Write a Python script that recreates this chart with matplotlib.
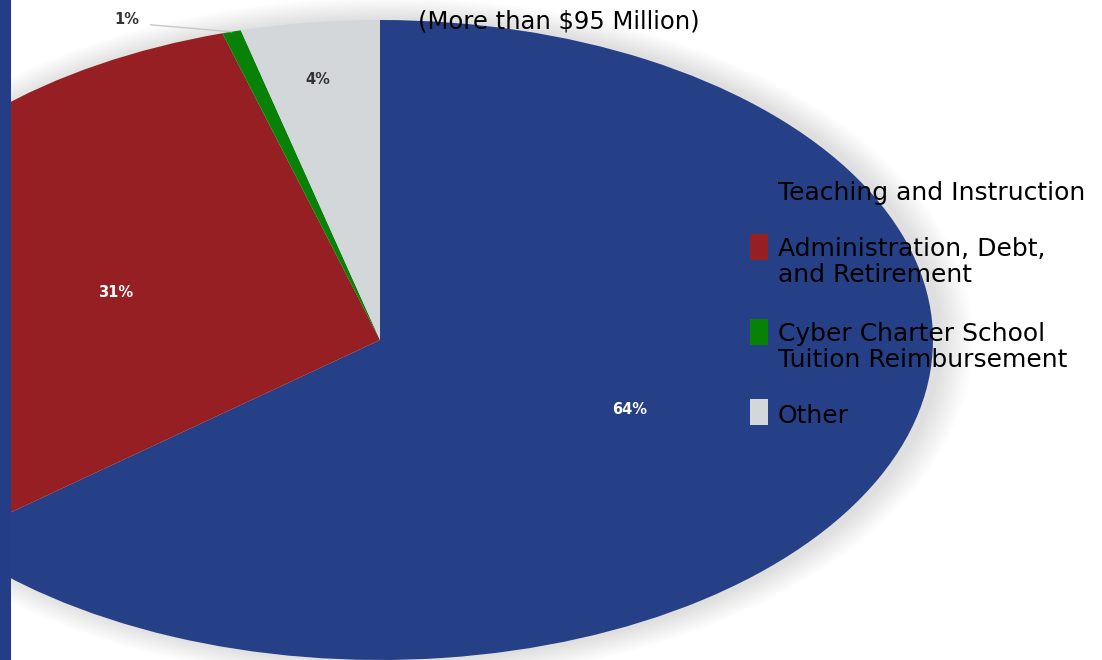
import matplotlib
matplotlib.use("Agg")
import matplotlib.pyplot as plt
from matplotlib.patches import Rectangle, Ellipse
import numpy as np

categories = ["Teaching and Instruction", "Administration, Debt,\nand Retirement",
              "Cyber Charter School\nTuition Reimbursement", "Other"]
values = [64.2, 31.2, 0.55, 4.05]
colors = ["#264087", "#951F22", "#078207", "#D4D7DA"]
title_text = "(More than $95 Million)"

W, H = 1102, 660
fig = plt.figure(figsize=(W / 100, H / 100), dpi=100)
fig.patch.set_facecolor("white")
ax = fig.add_axes([0, 0, 1, 1])

# pixel geometry of the stretched pie
cx, cy, rx, ry = 380, 340, 553, 320
xmin = -cx / rx
xmax = xmin + W / rx
ymax = cy / ry
ymin = ymax - H / ry

# soft shadow behind the pie
n = 16
for i in range(n):
    sx = 1.0 + 0.06 * (i + 1) / n
    sy = 1.0 + 0.07 * (i + 1) / n
    ax.add_patch(Ellipse((0.012, 0.0), 2 * sx, 2 * sy,
                         facecolor="#808080", edgecolor="none",
                         alpha=0.016, zorder=0))

wedges, texts, autotexts = ax.pie(
    values, colors=colors, startangle=90, counterclock=False, radius=1,
    center=(0, 0), autopct=lambda p: f"{int(p + 0.5)}%", pctdistance=0.5,
    wedgeprops=dict(edgecolor="none", linewidth=0),
    textprops=dict(fontsize=10.5, fontweight="bold", color="white"),
    frame=True)
ax.set_aspect("auto")
ax.set_xlim(xmin, xmax)
ax.set_ylim(ymin, ymax)
ax.axis("off")

def mid_angle(w):
    return np.deg2rad((w.theta1 + w.theta2) / 2)

# reposition small slice labels
t_other = autotexts[3]
a = mid_angle(wedges[3])
t_other.set_position((0.82 * np.cos(a) - 0.008, 0.82 * np.sin(a)))
t_other.set_color("#333333")

t_cyber = autotexts[2]
a = mid_angle(wedges[2])
tip = (np.cos(a), np.sin(a))
t_cyber.set_position((-0.458, 1.0))
t_cyber.set_color("#333333")
ax.plot([-0.415, tip[0]], [0.985, tip[1]], color="#C8C8C8", lw=1.0, zorder=5)

# left dark band
fig.patches.append(Rectangle((0, 0), 11 / W, 1, transform=fig.transFigure,
                             facecolor="#233D87", edgecolor="none", zorder=10))

# title
fig.text(559 / W, 1 - 28 / H, title_text, ha="center", va="baseline",
         fontsize=17.5, color="black", family="DejaVu Sans")

# legend
first_baselines = [200, 256, 341, 423]
line_gap = 26.5
sq_tops = [178, 234, 319, 399]
for cat, col, yb, yt in zip(categories, colors, first_baselines, sq_tops):
    fig.patches.append(Rectangle((750 / W, 1 - (yt + 26) / H), 18 / W, 26 / H,
                                 transform=fig.transFigure, facecolor=col,
                                 edgecolor="none"))
    for j, line in enumerate(cat.split("\n")):
        fig.text(778 / W, 1 - (yb + j * line_gap) / H, line, ha="left",
                 va="baseline", fontsize=18, color="black", family="DejaVu Sans")

fig.savefig("out.png", dpi=100)
